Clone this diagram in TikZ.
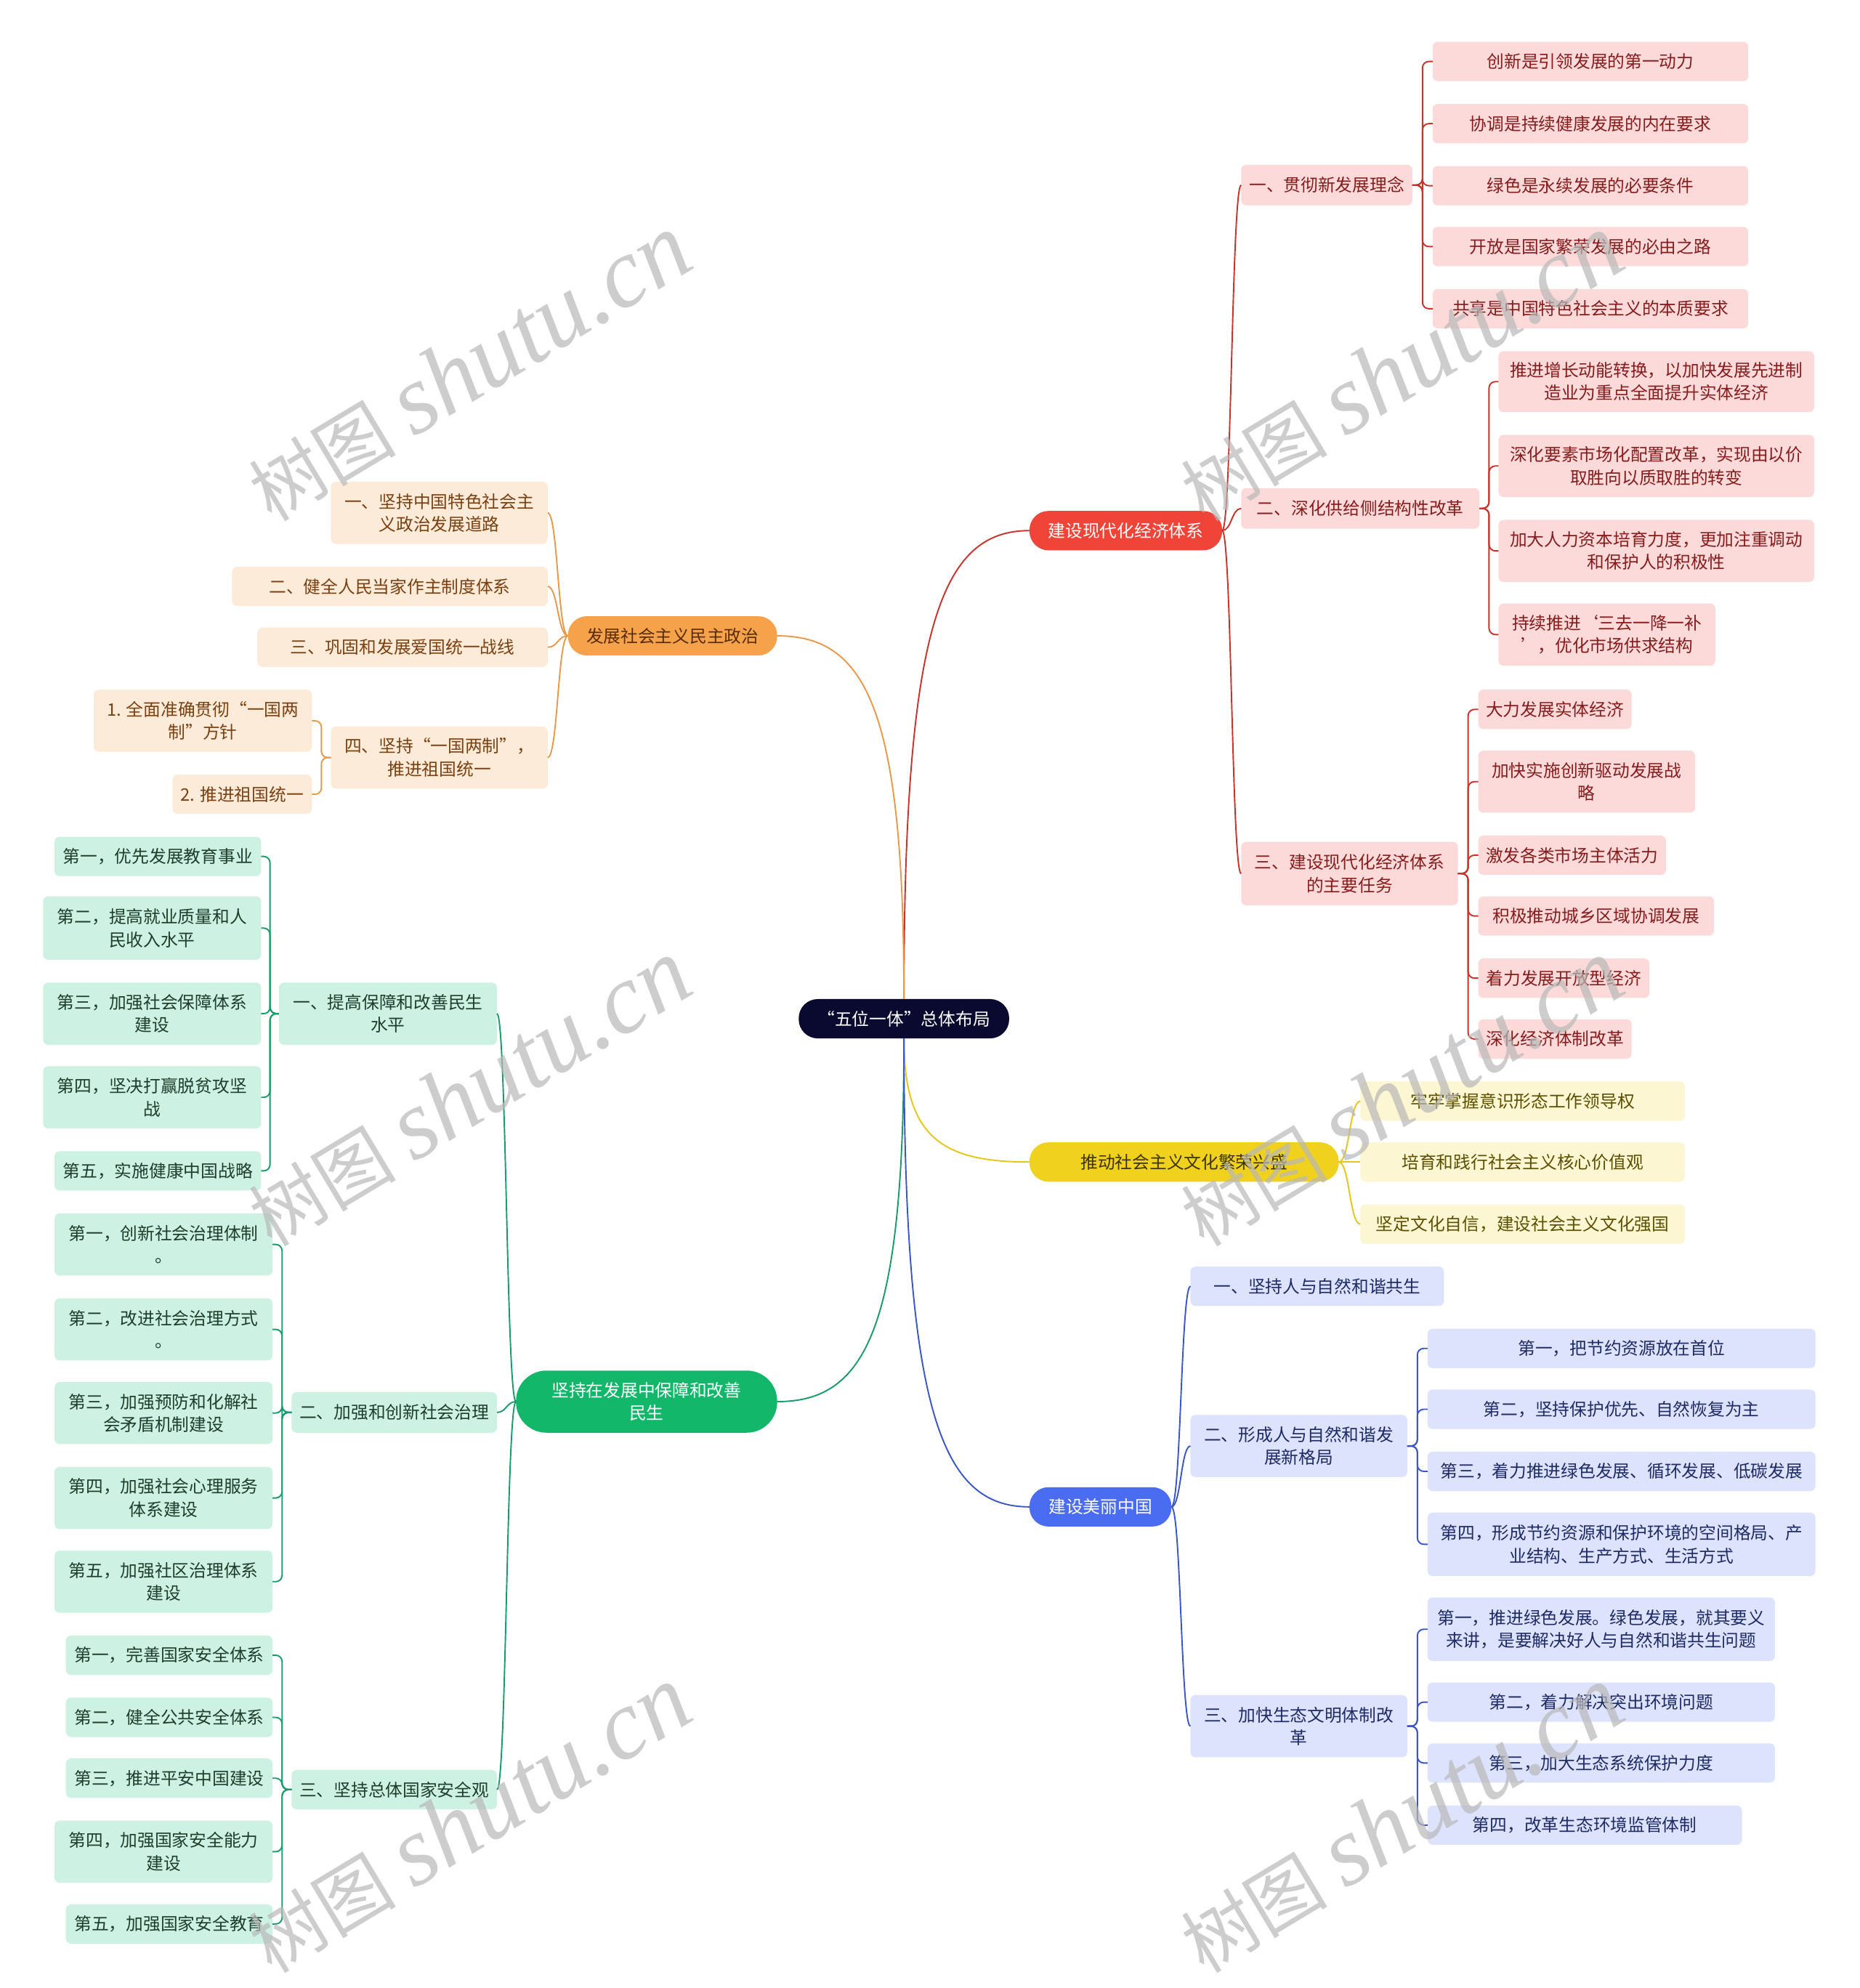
\documentclass[tikz,border=0pt]{standalone}
\usepackage{fontspec}
\newfontfamily\cjk{Noto Sans CJK SC}
\newfontfamily\wmserif{Liberation Serif}
\usetikzlibrary{calc}
\definecolor{cRoot}{HTML}{0A0A30}
\definecolor{cRed}{HTML}{F04438}
\definecolor{cRedL}{HTML}{C8342C}
\definecolor{cRedF}{HTML}{FCDADA}
\definecolor{cRedT}{HTML}{861C1C}
\definecolor{cOrg}{HTML}{F5A24B}
\definecolor{cOrgL}{HTML}{E8994A}
\definecolor{cOrgF}{HTML}{FDEBDA}
\definecolor{cOrgT}{HTML}{7A4010}
\definecolor{cOrgMT}{HTML}{5A2D00}
\definecolor{cYel}{HTML}{F0D21E}
\definecolor{cYelL}{HTML}{E6C619}
\definecolor{cYelF}{HTML}{FDF6D2}
\definecolor{cYelT}{HTML}{5C4F00}
\definecolor{cYelMT}{HTML}{3D3300}
\definecolor{cGrn}{HTML}{12B76A}
\definecolor{cGrnL}{HTML}{1A9B6C}
\definecolor{cGrnF}{HTML}{CDF1E2}
\definecolor{cGrnT}{HTML}{1F3D2E}
\definecolor{cBlu}{HTML}{4A6CF0}
\definecolor{cBluL}{HTML}{3A56C8}
\definecolor{cBluF}{HTML}{DDE3FC}
\definecolor{cBluT}{HTML}{1E2B66}
\definecolor{cWm}{HTML}{B8B8B8}
\newcommand\mybox[7]{%
  \pgfmathsetmacro\mbW{#5-#3}\pgfmathsetmacro\mbH{#6-#4}%
  \pgfmathsetmacro\mbX{(#3+#5)/2}\pgfmathsetmacro\mbY{(#4+#6)/2}%
  \node[#2, minimum width=\mbW pt, minimum height=\mbH pt] (#1) at (\mbX,\mbY) {#7};}
\newcommand\Lone[3]{\draw[#1] (#2) .. controls ($(#2)!0.8!(#2|-#3)$) and ($(#3)!0.7!(#2|-#3)$) .. (#3);}
\newcommand\Ltwo[3]{\draw[#1] (#2) .. controls ($(#2)!0.5!(#3|-#2)$) and ($(#3)!0.5!(#2|-#3)$) .. (#3);}
\newcommand\Lthree[3]{\draw[#1,rounded corners=5pt] (#2) -- ($(#2)!0.5!(#3|-#2)$) |- (#3);}
\begin{document}
\begin{tikzpicture}[x=1pt,y=-1pt,
  base/.style={inner sep=0pt, outer sep=0pt, align=center, font=\cjk\fontsize{13.6}{18}\selectfont},
  pillst/.style={base, rounded corners=15pt},
  subst/.style={base, rounded corners=4pt},
  rootst/.style={pillst, fill=cRoot, text=white},
  rmain/.style={pillst, fill=cRed, text=white},
  omain/.style={pillst, fill=cOrg, text=cOrgMT},
  ymain/.style={pillst, fill=cYel, text=cYelMT},
  gmain/.style={base, rounded corners=24pt, fill=cGrn, text=white},
  bmain/.style={pillst, fill=cBlu, text=white},
  rsub/.style={subst, fill=cRedF, text=cRedT},
  osub/.style={subst, fill=cOrgF, text=cOrgT},
  ysub/.style={subst, fill=cYelF, text=cYelT},
  gsub/.style={subst, fill=cGrnF, text=cGrnT},
  bsub/.style={subst, fill=cBluF, text=cBluT},
  rl/.style={draw=cRedL, line width=1.1pt},
  ol/.style={draw=cOrgL, line width=1.1pt},
  yl/.style={draw=cYelL, line width=1.1pt},
  gl/.style={draw=cGrnL, line width=1.1pt},
  bl/.style={draw=cBluL, line width=1.1pt},
  wm/.style={text=cWm, opacity=0.7, rotate=31, inner sep=0pt}
]
\useasboundingbox[fill=white] (0,0) rectangle (1467,1568);

% root and main branches
\mybox{root}{rootst}{630}{788}{796}{819}{“五位一体”总体布局}
\mybox{m1}{rmain}{812}{403}{964}{434}{建设现代化经济体系}
\mybox{m2}{omain}{448}{486}{613}{517}{发展社会主义民主政治}
\mybox{m3}{ymain}{812}{901}{1056}{932}{推动社会主义文化繁荣兴盛}
\mybox{m4}{gmain}{407}{1081}{613}{1130}{坚持在发展中保障和改善\\民生}
\mybox{m5}{bmain}{812}{1173}{924}{1204}{建设美丽中国}

% red
\mybox{r1}{rsub}{979}{130}{1114}{162}{一、贯彻新发展理念}
\mybox{r2}{rsub}{979}{385}{1167}{417}{二、深化供给侧结构性改革}
\mybox{r3}{rsub}{979}{664}{1150}{714}{三、建设现代化经济体系\\的主要任务}
\mybox{r11}{rsub}{1130}{33}{1379}{64}{创新是引领发展的第一动力}
\mybox{r12}{rsub}{1130}{82}{1379}{113}{协调是持续健康发展的内在要求}
\mybox{r13}{rsub}{1130}{131}{1379}{162}{绿色是永续发展的必要条件}
\mybox{r14}{rsub}{1130}{179}{1379}{210}{开放是国家繁荣发展的必由之路}
\mybox{r15}{rsub}{1130}{228}{1379}{259}{共享是中国特色社会主义的本质要求}
\mybox{r21}{rsub}{1182}{277}{1431}{325}{推进增长动能转换，以加快发展先进制\\造业为重点全面提升实体经济}
\mybox{r22}{rsub}{1182}{343}{1431}{392}{深化要素市场化配置改革，实现由以价\\取胜向以质取胜的转变}
\mybox{r23}{rsub}{1182}{410}{1431}{459}{加大人力资本培育力度，更加注重调动\\和保护人的积极性}
\mybox{r24}{rsub}{1182}{476}{1353}{525}{持续推进‘三去一降一补\\’，优化市场供求结构}
\mybox{r31}{rsub}{1166}{544}{1287}{575}{大力发展实体经济}
\mybox{r32}{rsub}{1166}{592}{1337}{641}{加快实施创新驱动发展战\\略}
\mybox{r33}{rsub}{1166}{659}{1314}{690}{激发各类市场主体活力}
\mybox{r34}{rsub}{1166}{707}{1352}{738}{积极推动城乡区域协调发展}
\mybox{r35}{rsub}{1166}{756}{1301}{787}{着力发展开放型经济}
\mybox{r36}{rsub}{1166}{804}{1287}{835}{深化经济体制改革}

% orange
\mybox{o1}{osub}{261}{380}{432}{429}{一、坚持中国特色社会主\\义政治发展道路}
\mybox{o2}{osub}{183}{447}{432}{478}{二、健全人民当家作主制度体系}
\mybox{o3}{osub}{203}{495}{432}{526}{三、巩固和发展爱国统一战线}
\mybox{o4}{osub}{261}{573}{432}{622}{四、坚持“一国两制”，\\推进祖国统一}
\mybox{o41}{osub}{74}{544}{246}{593}{1. 全面准确贯彻“一国两\\制”方针}
\mybox{o42}{osub}{136}{611}{246}{642}{2. 推进祖国统一}

% yellow
\mybox{y1}{ysub}{1073}{853}{1329}{884}{牢牢掌握意识形态工作领导权}
\mybox{y2}{ysub}{1073}{901}{1329}{932}{培育和践行社会主义核心价值观}
\mybox{y3}{ysub}{1073}{950}{1329}{981}{坚定文化自信，建设社会主义文化强国}

% green
\mybox{g1}{gsub}{220}{775}{392}{824}{一、提高保障和改善民生\\水平}
\mybox{g2}{gsub}{230}{1098}{392}{1130}{二、加强和创新社会治理}
\mybox{g3}{gsub}{230}{1396}{392}{1427}{三、坚持总体国家安全观}
\mybox{g11}{gsub}{43}{660}{206}{691}{第一，优先发展教育事业}
\mybox{g12}{gsub}{34}{707}{206}{757}{第二，提高就业质量和人\\民收入水平}
\mybox{g13}{gsub}{34}{775}{206}{824}{第三，加强社会保障体系\\建设}
\mybox{g14}{gsub}{34}{841}{206}{890}{第四，坚决打赢脱贫攻坚\\战}
\mybox{g15}{gsub}{43}{908}{206}{939}{第五，实施健康中国战略}
\mybox{g21}{gsub}{43}{957}{215}{1006}{第一，创新社会治理体制\\。}
\mybox{g22}{gsub}{43}{1024}{215}{1073}{第二，改进社会治理方式\\。}
\mybox{g23}{gsub}{43}{1090}{215}{1139}{第三，加强预防和化解社\\会矛盾机制建设}
\mybox{g24}{gsub}{43}{1157}{215}{1206}{第四，加强社会心理服务\\体系建设}
\mybox{g25}{gsub}{43}{1223}{215}{1272}{第五，加强社区治理体系\\建设}
\mybox{g31}{gsub}{52}{1290}{215}{1321}{第一，完善国家安全体系}
\mybox{g32}{gsub}{52}{1339}{215}{1370}{第二，健全公共安全体系}
\mybox{g33}{gsub}{52}{1387}{215}{1418}{第三，推进平安中国建设}
\mybox{g34}{gsub}{43}{1436}{215}{1485}{第四，加强国家安全能力\\建设}
\mybox{g35}{gsub}{52}{1502}{215}{1533}{第五，加强国家安全教育}

% blue
\mybox{b1}{bsub}{939}{999}{1139}{1030}{一、坚持人与自然和谐共生}
\mybox{b2}{bsub}{939}{1116}{1110}{1165}{二、形成人与自然和谐发\\展新格局}
\mybox{b3}{bsub}{939}{1337}{1110}{1386}{三、加快生态文明体制改\\革}
\mybox{b21}{bsub}{1126}{1048}{1432}{1079}{第一，把节约资源放在首位}
\mybox{b22}{bsub}{1126}{1096}{1432}{1127}{第二，坚持保护优先、自然恢复为主}
\mybox{b23}{bsub}{1126}{1145}{1432}{1176}{第三，着力推进绿色发展、循环发展、低碳发展}
\mybox{b24}{bsub}{1126}{1193}{1432}{1243}{第四，形成节约资源和保护环境的空间格局、产\\业结构、生产方式、生活方式}
\mybox{b31}{bsub}{1126}{1260}{1400}{1310}{第一，推进绿色发展。绿色发展，就其要义\\来讲，是要解决好人与自然和谐共生问题}
\mybox{b32}{bsub}{1126}{1327}{1400}{1358}{第二，着力解决突出环境问题}
\mybox{b33}{bsub}{1126}{1375}{1400}{1406}{第三，加大生态系统保护力度}
\mybox{b34}{bsub}{1126}{1424}{1374}{1455}{第四，改革生态环境监管体制}

% level-1 connectors
\Lone{rl}{root.north}{m1.west}
\Lone{ol}{root.north}{m2.east}
\Lone{yl}{root.south}{m3.west}
\Lone{gl}{root.south}{m4.east}
\Lone{bl}{root.south}{m5.west}

% level-2 connectors
\Ltwo{rl}{m1.east}{r1.west}
\Ltwo{rl}{m1.east}{r2.west}
\Ltwo{rl}{m1.east}{r3.west}
\Ltwo{ol}{m2.west}{o1.east}
\Ltwo{ol}{m2.west}{o2.east}
\Ltwo{ol}{m2.west}{o3.east}
\Ltwo{ol}{m2.west}{o4.east}
\Ltwo{yl}{m3.east}{y1.west}
\Ltwo{yl}{m3.east}{y2.west}
\Ltwo{yl}{m3.east}{y3.west}
\Ltwo{gl}{m4.west}{g1.east}
\Ltwo{gl}{m4.west}{g2.east}
\Ltwo{gl}{m4.west}{g3.east}
\Ltwo{bl}{m5.east}{b1.west}
\Ltwo{bl}{m5.east}{b2.west}
\Ltwo{bl}{m5.east}{b3.west}

% level-3 connectors
\foreach \c in {r11,r12,r13,r14,r15} {\Lthree{rl}{r1.east}{\c.west}}
\foreach \c in {r21,r22,r23,r24} {\Lthree{rl}{r2.east}{\c.west}}
\foreach \c in {r31,r32,r33,r34,r35,r36} {\Lthree{rl}{r3.east}{\c.west}}
\foreach \c in {o41,o42} {\Lthree{ol}{o4.west}{\c.east}}
\foreach \c in {g11,g12,g13,g14,g15} {\Lthree{gl}{g1.west}{\c.east}}
\foreach \c in {g21,g22,g23,g24,g25} {\Lthree{gl}{g2.west}{\c.east}}
\foreach \c in {g31,g32,g33,g34,g35} {\Lthree{gl}{g3.west}{\c.east}}
\foreach \c in {b21,b22,b23,b24} {\Lthree{bl}{b2.east}{\c.west}}
\foreach \c in {b31,b32,b33,b34} {\Lthree{bl}{b3.east}{\c.west}}

% watermarks
\foreach \wx/\wy [count=\i] in {370/290,370/862,370/1435,1105/290,1105/862,1105/1435}
  {\node[wm] (wm\i) at (\wx,\wy) {{\cjk\fontsize{58}{58}\selectfont 树图}\hspace{14pt}{\wmserif\itshape\fontsize{78}{78}\selectfont shutu.cn}};}
\end{tikzpicture}
\end{document}
